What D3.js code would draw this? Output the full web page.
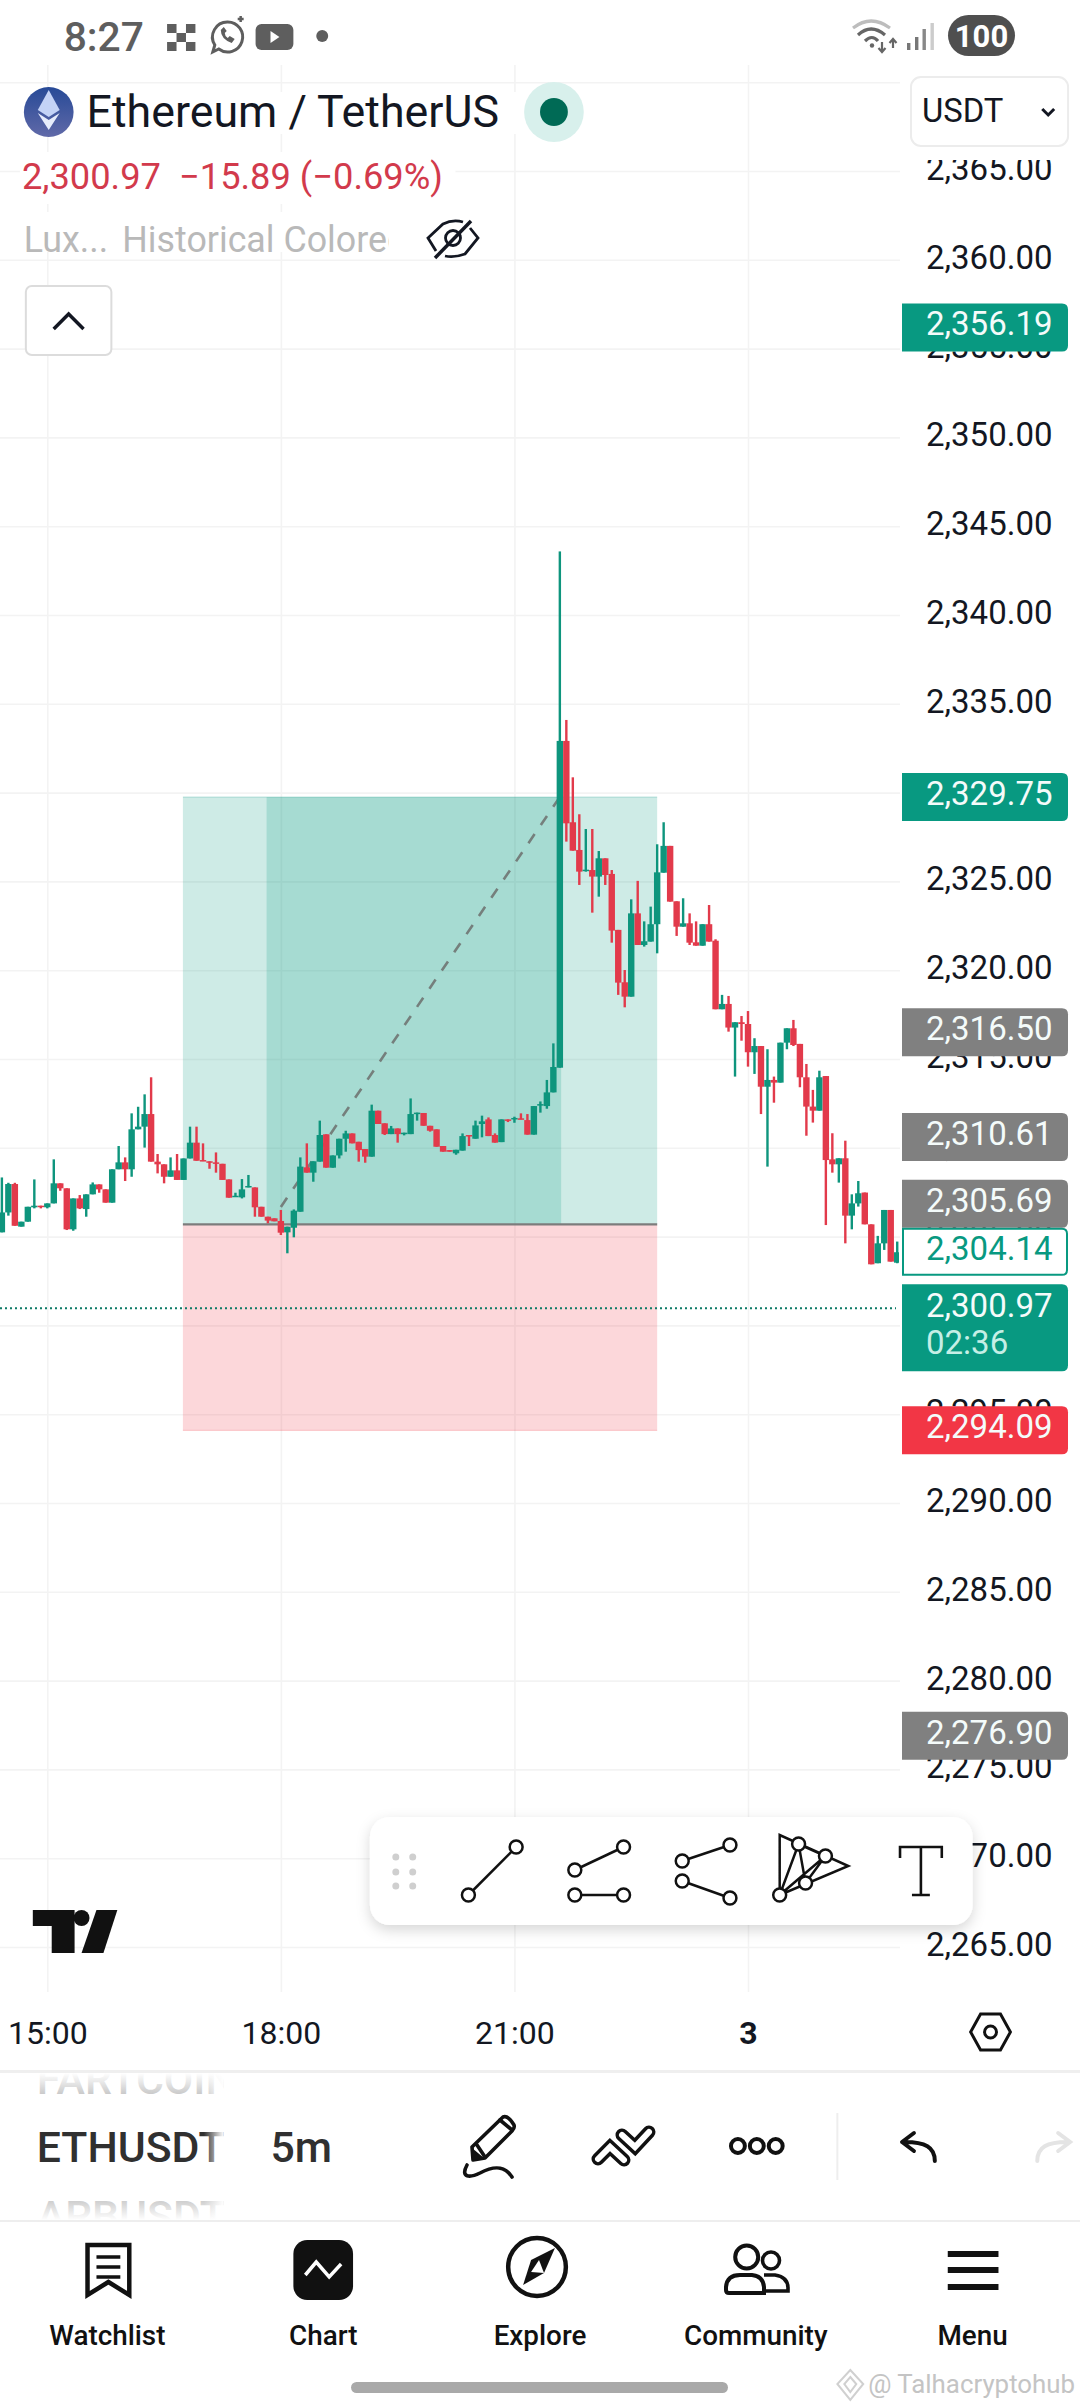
<!DOCTYPE html>
<html>
<head>
<meta charset="utf-8">
<script src="https://cdn.jsdelivr.net/npm/d3@7"></script>
<style>
  html, body { margin: 0; padding: 0; background: #fff; }
  svg { display: block; }
  text { font-family: Roboto, sans-serif; }
</style>
</head>
<body>
<script>
// 5m candles, first one sits 7 bars left of the 15:00 line
var firstBar = -7;

var opens = [
  2305.24,2306.36,2307.96,2305.56,2305.84,2306.65,2306.74,
  2306.65,2306.87,2308.00,2307.72,2305.41,2307.15,2306.55,2307.38,2307.94,2307.66,
  2306.91,2308.79,2309.18,2308.79,2311.04,2311.19,2311.90,2309.22,2309.07,2308.37,
  2308.73,2308.19,2309.40,2310.29,2309.31,2309.24,2309.18,2309.10,2308.22,2307.25,
  2307.21,2307.77,2307.77,2306.68,2306.12,2306.03,2305.88,2305.24,2305.50,2306.40,
  2308.90,2308.60,2309.22,2310.76,2308.88,2309.57,2310.51,2310.81,2310.34,2309.93,
  2309.50,2312.09,2311.38,2310.77,2311.09,2310.77,2310.77,2311.92,2311.96,2311.24,
  2311.04,2310.10,2309.87,2309.69,2309.84,2310.72,2310.51,2311.34,2311.60,2310.72,
  2310.32,2311.60,2311.60,2311.66,2311.56,2310.74,2312.39,2312.35,2313.12,2314.51,
  2332.91,2328.33,2326.77,2325.59,2325.64,2325.27,2326.30,2325.42,2322.27,2319.32,
  2318.51,2323.20,2321.42,2321.61,2322.59,2325.49,2327.00,2323.88,2322.45,2322.64,
  2321.57,2321.38,2322.59,2321.66,2317.80,2318.10,2316.77,2317.07,2316.97,2315.38,
  2315.73,2313.44,2313.82,2313.67,2315.92,2316.73,2315.85,2313.97,2312.32,2312.09,
  2314.04,2309.35,2309.07,2309.41,2306.18,2306.87,2307.48,2305.69,2303.50,2304.62,
  2306.50,2303.53
];
var highs = [
  2308.33,2308.03,2308.03,2305.84,2306.68,2308.22,2306.74,
  2306.87,2309.35,2308.00,2307.72,2307.15,2307.34,2307.38,2308.05,2307.94,2307.66,
  2308.79,2310.10,2309.46,2311.94,2312.31,2313.01,2313.97,2309.65,2309.07,2309.46,
  2309.65,2309.40,2311.19,2311.19,2310.25,2309.24,2309.74,2309.10,2308.22,2307.47,
  2308.24,2308.47,2307.77,2306.68,2306.12,2306.03,2306.50,2305.56,2306.53,2309.46,
  2310.25,2309.24,2311.53,2310.76,2309.57,2310.51,2310.96,2310.81,2310.34,2309.93,
  2312.43,2312.09,2311.38,2311.23,2311.09,2310.85,2312.78,2311.98,2311.96,2311.24,
  2311.04,2310.10,2309.87,2309.89,2310.81,2310.72,2311.53,2311.81,2311.71,2310.81,
  2311.60,2311.60,2311.75,2311.94,2311.90,2312.35,2312.61,2313.82,2315.88,2343.58,
  2334.09,2330.86,2328.78,2327.95,2327.95,2326.71,2326.30,2325.64,2322.27,2320.01,
  2323.99,2325.03,2322.75,2323.58,2327.09,2328.33,2327.00,2323.88,2324.05,2323.20,
  2322.75,2322.59,2323.67,2321.74,2318.61,2318.55,2317.07,2317.42,2317.70,2316.17,
  2315.73,2315.55,2314.01,2315.92,2316.73,2317.20,2315.85,2314.72,2313.26,2314.34,
  2314.04,2310.82,2309.41,2310.40,2307.38,2308.13,2307.48,2305.69,2305.04,2306.50,
  2306.50,2304.72
];
var lows = [
  2305.24,2306.18,2305.61,2305.56,2305.84,2306.59,2306.59,
  2306.59,2306.87,2307.58,2305.37,2305.33,2306.55,2306.12,2307.38,2307.47,2306.91,
  2306.91,2308.79,2308.13,2308.37,2311.04,2310.01,2309.22,2308.56,2308.00,2308.37,
  2308.19,2308.19,2309.40,2309.27,2309.25,2308.82,2308.60,2308.19,2307.19,2307.25,
  2307.15,2307.77,2306.12,2306.12,2305.75,2305.86,2305.09,2304.06,2304.96,2306.40,
  2308.60,2308.09,2309.22,2308.88,2308.88,2309.40,2309.78,2310.25,2309.22,2309.16,
  2309.50,2311.34,2310.72,2310.77,2310.29,2310.70,2310.77,2311.53,2311.24,2310.91,
  2310.06,2309.78,2309.78,2309.61,2309.84,2310.10,2310.51,2310.59,2310.66,2310.29,
  2310.32,2311.45,2311.41,2311.60,2310.74,2310.74,2311.98,2312.20,2313.12,2314.51,
  2327.24,2326.73,2324.80,2325.55,2323.24,2324.14,2324.80,2321.55,2318.61,2317.91,
  2318.51,2321.42,2321.33,2321.61,2320.95,2325.49,2323.86,2321.93,2322.45,2321.42,
  2321.38,2321.38,2321.61,2317.80,2317.80,2316.54,2314.01,2316.03,2314.57,2314.16,
  2311.90,2308.94,2312.54,2313.67,2315.55,2315.73,2313.41,2310.68,2311.42,2312.09,
  2305.65,2308.60,2308.04,2304.62,2305.41,2306.69,2305.69,2303.44,2303.50,2304.25,
  2303.59,2303.50
];
var closes = [
  2306.36,2307.96,2305.61,2305.84,2306.68,2306.74,2306.68,
  2306.87,2308.00,2307.72,2305.41,2307.15,2306.59,2307.38,2307.94,2307.66,2306.91,
  2308.79,2309.18,2308.79,2311.04,2311.19,2311.90,2309.22,2309.07,2308.37,2308.73,
  2308.19,2309.40,2310.29,2309.27,2309.25,2309.16,2309.12,2308.19,2307.19,2307.30,
  2307.66,2307.85,2306.65,2306.12,2305.90,2305.86,2305.22,2305.56,2306.46,2308.94,
  2308.60,2309.24,2310.72,2308.88,2309.57,2310.51,2310.81,2310.25,2309.87,2309.50,
  2312.09,2311.34,2310.77,2311.09,2310.77,2310.85,2311.90,2311.98,2311.24,2310.96,
  2310.06,2309.78,2309.78,2309.89,2310.66,2310.66,2311.26,2311.49,2310.66,2310.29,
  2311.60,2311.53,2311.68,2311.60,2310.74,2312.35,2312.46,2313.12,2314.55,2332.91,
  2328.27,2326.73,2325.55,2325.66,2325.27,2326.30,2325.36,2322.23,2319.30,2318.51,
  2323.20,2321.42,2321.63,2322.59,2325.51,2327.00,2323.86,2322.45,2322.64,2321.55,
  2321.38,2322.59,2321.61,2317.80,2318.10,2316.77,2317.07,2316.97,2315.38,2315.73,
  2313.44,2313.82,2313.67,2315.92,2316.73,2315.79,2313.97,2312.32,2312.09,2313.97,
  2309.31,2309.07,2309.41,2306.18,2306.87,2307.44,2305.69,2303.44,2304.62,2306.50,
  2303.59,2304.12
];

var priceTicks = [2365,2360,2355,2350,2345,2340,2335,2330,2325,2320,2315,2310,2305,2300,2295,2290,2285,2280,2275,2270,2265];
var gridPrices = [2370].concat(priceTicks);
var timeTicks = [0,36,72,108];
var timeLabels = ["15:00","18:00","21:00","3"];

// long position tool
var targetPrice = 2329.75, entryPrice = 2305.69, stopPrice = 2294.09;
var posStart = 20.9, posEnd = 94, heldStart = 33.8, heldEnd = 79.2;
var pathFrom = [36, 2306.67], pathTo = [79, 2329.75];
var lastPrice = 2300.97;

// price tags on the axis, nudge = label pushed up so it does not overlap the next one
var tagValues = [2356.19,2329.75,2316.50,2310.61,2305.69,2294.09,2276.90];
var tagFills  = ["#089981","#089981","#808080","#808080","#808080","#f23645","#808080"];
var tagNudge  = [0,0,0,0,-20.5,0,0];

var width = 1080, height = 2408;
var paneRight = 900;
var green = "#0e957d", red = "#e23a4b";

var x = d3.scaleLinear().domain([0,108]).range([47.3,748]);
var y = d3.scaleLinear().domain([2265,2370]).range([1947,82.2]);
var fmt = d3.format(",.2f");

var bars = opens.map(function(o,i){
  return {t:firstBar+i, o:o, h:highs[i], l:lows[i], c:closes[i]};
});

var svg = d3.select("body").append("svg").attr("width",width).attr("height",height);
var defs = svg.append("defs");
defs.append("clipPath").attr("id","pane").append("rect").attr("x",0).attr("y",0).attr("width",paneRight-1).attr("height",1990);
defs.append("clipPath").attr("id","axisClip").append("rect").attr("x",900).attr("y",160).attr("width",180).attr("height",1830);
var lg = defs.append("linearGradient").attr("id","eth").attr("x1",0).attr("x2",0).attr("y1",0).attr("y2",1);
lg.append("stop").attr("offset",0).attr("stop-color","#274a97");
lg.append("stop").attr("offset",1).attr("stop-color","#6069a8");
var sh = defs.append("filter").attr("id","shadow").attr("x","-10%").attr("y","-30%").attr("width","120%").attr("height","170%");
sh.append("feDropShadow").attr("dx",0).attr("dy",5).attr("stdDeviation",7).attr("flood-color","#000").attr("flood-opacity",0.16);
var fadeR = defs.append("linearGradient").attr("id","fadeR");
fadeR.append("stop").attr("offset",0).attr("stop-color","#fff").attr("stop-opacity",0);
fadeR.append("stop").attr("offset",1).attr("stop-color","#fff").attr("stop-opacity",1);
var fadeD = defs.append("linearGradient").attr("id","fadeD").attr("x1",0).attr("x2",0).attr("y1",0).attr("y2",1);
fadeD.append("stop").attr("offset",0).attr("stop-color","#fff").attr("stop-opacity",1);
fadeD.append("stop").attr("offset",1).attr("stop-color","#fff").attr("stop-opacity",0.25);
var fadeU = defs.append("linearGradient").attr("id","fadeU").attr("x1",0).attr("x2",0).attr("y1",0).attr("y2",1);
fadeU.append("stop").attr("offset",0).attr("stop-color","#fff").attr("stop-opacity",0.25);
fadeU.append("stop").attr("offset",1).attr("stop-color","#fff").attr("stop-opacity",1);

// grid, built from the axes
var gridY = svg.append("g").call(d3.axisLeft(y).tickValues(gridPrices).tickSize(-paneRight).tickFormat(""));
var gridX = svg.append("g").attr("transform","translate(0,1992)")
  .call(d3.axisBottom(x).tickValues(timeTicks).tickSize(-1927).tickFormat(""));
svg.selectAll(".domain").remove();
gridY.selectAll("line").attr("stroke","#f3f3f3").attr("stroke-width",1.6);
gridX.selectAll("line").attr("stroke","#f3f3f3").attr("stroke-width",1.6);

// position tool
var pos = svg.append("g");
pos.append("rect").attr("x",x(posStart)).attr("y",y(targetPrice)).attr("width",x(posEnd)-x(posStart))
  .attr("height",y(entryPrice)-y(targetPrice)).attr("fill","#089981").attr("fill-opacity",0.2);
pos.append("rect").attr("x",x(posStart)).attr("y",y(entryPrice)).attr("width",x(posEnd)-x(posStart))
  .attr("height",y(stopPrice)-y(entryPrice)).attr("fill","#f23645").attr("fill-opacity",0.2);
pos.append("rect").attr("x",x(heldStart)).attr("y",y(targetPrice)).attr("width",x(heldEnd)-x(heldStart))
  .attr("height",y(entryPrice)-y(targetPrice)).attr("fill","#089981").attr("fill-opacity",0.2);
pos.append("line").attr("x1",x(posStart)).attr("x2",x(posEnd)).attr("y1",y(entryPrice)).attr("y2",y(entryPrice))
  .attr("stroke","#7c7c7c").attr("stroke-width",2.4);
pos.append("line").attr("x1",x(posStart)).attr("x2",x(posEnd)).attr("y1",y(targetPrice)).attr("y2",y(targetPrice))
  .attr("stroke","#089981").attr("stroke-opacity",0.25).attr("stroke-width",1);
pos.append("line").attr("x1",x(posStart)).attr("x2",x(posEnd)).attr("y1",y(stopPrice)).attr("y2",y(stopPrice))
  .attr("stroke","#f23645").attr("stroke-opacity",0.25).attr("stroke-width",1);
pos.append("line").attr("x1",x(pathFrom[0])).attr("y1",y(pathFrom[1])).attr("x2",x(pathTo[0])).attr("y2",y(pathTo[1]))
  .attr("stroke","#757f7c").attr("stroke-width",2.6).attr("stroke-dasharray","11 11");

// candles
var plot = svg.append("g").attr("clip-path","url(#pane)");
var candle = plot.selectAll("g.c").data(bars).enter().append("g").attr("class","c")
  .attr("fill",function(d){ return d.c>=d.o ? green : red; });
candle.append("rect")
  .attr("x",function(d){ return x(d.t)-1.2; })
  .attr("width",2.4)
  .attr("y",function(d){ return y(d.h); })
  .attr("height",function(d){ return y(d.l)-y(d.h); });
candle.append("rect")
  .attr("x",function(d){ return x(d.t)-3.2; })
  .attr("width",6.4)
  .attr("y",function(d){ return y(Math.max(d.o,d.c)); })
  .attr("height",function(d){ return Math.max(1.5,Math.abs(y(d.o)-y(d.c))); });

// last price line
svg.append("line").attr("x1",0).attr("x2",paneRight-4).attr("y1",y(lastPrice)).attr("y2",y(lastPrice))
  .attr("stroke","#0c7a66").attr("stroke-width",2).attr("stroke-dasharray","2 3");

// price axis
svg.append("rect").attr("x",paneRight).attr("y",60).attr("width",180).attr("height",1930).attr("fill","#fff");
var axisR = svg.append("g").attr("clip-path","url(#axisClip)").append("g").attr("transform","translate(926,0)")
  .call(d3.axisRight(y).tickValues(priceTicks).tickSize(0).tickPadding(0).tickFormat(fmt));
axisR.select(".domain").remove();
axisR.selectAll("text").attr("font-size",33).attr("fill","#131722").attr("dy","0.26em")
  .style("font-family","Roboto, sans-serif");

function tagPath(x0,x1,top,h,r){
  return "M"+x0+","+top+"H"+(x1-r)+"Q"+x1+","+top+" "+x1+","+(top+r)+"V"+(top+h-r)+"Q"+x1+","+(top+h)+" "+(x1-r)+","+(top+h)+"H"+x0+"Z";
}
var tags = svg.selectAll("g.tag").data(tagValues).enter().append("g").attr("class","tag");
tags.append("path")
  .attr("d",function(d,i){ return tagPath(902,1068,y(d)+tagNudge[i]-24,48,6); })
  .attr("fill",function(d,i){ return tagFills[i]; });
tags.append("text").attr("x",926).attr("y",function(d,i){ return y(d)+tagNudge[i]+8; })
  .attr("font-size",33).attr("fill","#f4fbfa").text(fmt);

// current bar value
svg.append("path").attr("d",tagPath(903,1067,y(2304.14)-23,46,5)).attr("fill","#fff").attr("stroke","#089981").attr("stroke-width",2);
svg.append("text").attr("x",926).attr("y",y(2304.14)+8).attr("font-size",33).attr("fill","#089981").text(fmt(2304.14));
// last price + countdown
svg.append("path").attr("d",tagPath(902,1068,y(lastPrice)-24,87,6)).attr("fill","#089981");
svg.append("text").attr("x",926).attr("y",y(lastPrice)+9).attr("font-size",33).attr("fill","#f4fbfa").text(fmt(lastPrice));
svg.append("text").attr("x",926).attr("y",y(lastPrice)+46).attr("font-size",33).attr("fill","#c5efe6").text("02:36");

// time axis
var axisB = svg.append("g").attr("transform","translate(0,2021)")
  .call(d3.axisBottom(x).tickValues(timeTicks).tickSize(0).tickPadding(0).tickFormat(function(d,i){ return timeLabels[i]; }));
axisB.select(".domain").remove();
axisB.selectAll("text").attr("font-size",32).attr("fill","#131722").attr("dy","0.71em")
  .style("font-family","Roboto, sans-serif")
  .attr("font-weight",function(d,i){ return timeLabels[i]==="3" ? 700 : 400; });

// app chrome, measured on a slightly wider crop hence the scale
var chrome = svg.append("g").attr("transform","scale(0.9945,1)");

chrome.append("rect").attr("x",0).attr("y",0).attr("width",1090).attr("height",64).attr("fill","#fff");
chrome.append("rect").attr("x",20).attr("y",92).attr("width",515).attr("height",42).attr("fill","#fff");
chrome.append("rect").attr("x",20).attr("y",152).attr("width",438).attr("height",52).attr("fill","#fff");
chrome.append("rect").attr("x",20).attr("y",212).attr("width",460).attr("height",40).attr("fill","#fff");

var statusBar = chrome.append("g").attr("fill","#5e5e5e");
statusBar.append("text").attr("x",64).attr("y",51).attr("font-size",41).attr("font-weight",500).text("8:27");
// little checker icon
[[168,24],[187,24],[177.5,33],[168,42],[187,42]].forEach(function(p){
  statusBar.append("rect").attr("x",p[0]).attr("y",p[1]).attr("width",9.5).attr("height",9);
});
statusBar.append("path").attr("d","M229,22a15,15 0 1 1 -9,27l-6,3l2,-7a15,15 0 0 1 13,-23z").attr("fill","none").attr("stroke","#5e5e5e").attr("stroke-width",3);
statusBar.append("path").attr("d","M222,30q0,9 11,13l3,-4l-5,-3l-2,2q-3,-2 -3,-5l2,-2l-3,-4z");
statusBar.append("path").attr("d","M239,19h6M242,16v6").attr("stroke","#5e5e5e").attr("stroke-width",2.5);
statusBar.append("rect").attr("x",257).attr("y",24).attr("width",38).attr("height",26).attr("rx",6);
statusBar.append("path").attr("d","M272,31l9,6l-9,6z").attr("fill","#fff");
statusBar.append("circle").attr("cx",324).attr("cy",36).attr("r",6);

// wifi, signal, battery
var wifi = svg.append("g").attr("fill","none").attr("stroke-width",3.2);
wifi.append("path").attr("d","M853,28q18,-14 37,0").attr("stroke","#bdbdbd");
wifi.append("path").attr("d","M858,35q13,-12 27,0").attr("stroke","#666");
wifi.append("path").attr("d","M865,41q7,-7 13,0").attr("stroke","#666");
svg.append("circle").attr("cx",872).attr("cy",45.5).attr("r",2.2).attr("fill","#666");
svg.append("path").attr("d","M882,42v10m-3.5,-4l3.5,4l3.5,-4M893,48v-9m-3.5,4l3.5,-4l3.5,4").attr("fill","none").attr("stroke","#666").attr("stroke-width",2.2);
[[907,43,"#777"],[915,37,"#777"],[922.5,29,"#888"],[930.5,23,"#ccc"]].forEach(function(b){
  svg.append("rect").attr("x",b[0]).attr("y",b[1]).attr("width",3.4).attr("height",50-b[1]).attr("fill",b[2]);
});
svg.append("rect").attr("x",948).attr("y",15).attr("width",67).attr("height",41).attr("rx",20.5).attr("fill","#4f4f4f");
svg.append("text").attr("x",981.5).attr("y",47).attr("text-anchor","middle").attr("font-size",31).attr("font-weight",700).attr("fill","#fff").text("100");

// symbol header
chrome.append("circle").attr("cx",49).attr("cy",112).attr("r",25).attr("fill","url(#eth)");
chrome.append("path").attr("d","M49,90L38,110L49,117L60,110Z").attr("fill","#c4d3f6");
chrome.append("path").attr("d","M38,113L49,120L60,113L49,130Z").attr("fill","#e6ecfb");
chrome.append("text").attr("x",87).attr("y",127).attr("font-size",45).attr("fill","#131722").text("Ethereum / TetherUS");
chrome.append("circle").attr("cx",557).attr("cy",112).attr("r",30).attr("fill","#d8f0ec");
chrome.append("circle").attr("cx",557).attr("cy",112).attr("r",14).attr("fill","#006a55");
chrome.append("rect").attr("x",916).attr("y",77).attr("width",158).attr("height",69).attr("rx",10).attr("fill","#fff").attr("stroke","#ececec").attr("stroke-width",2);
chrome.append("text").attr("x",927).attr("y",122).attr("font-size",33).attr("fill","#131722").text("USDT");
chrome.append("path").attr("d","M1048,109l6,6l6,-6").attr("fill","none").attr("stroke","#131722").attr("stroke-width",3);
chrome.append("text").attr("x",22).attr("y",189).attr("font-size",36.5).attr("fill","#d23a4c").text("2,300.97");
chrome.append("text").attr("x",180).attr("y",189).attr("font-size",36.5).attr("fill","#d23a4c").text("\u221215.89 (\u22120.69%)");
chrome.append("text").attr("x",24).attr("y",252).attr("font-size",36).attr("fill","#b9b9b9").text("Lux...");
defs.append("clipPath").attr("id","hist").append("rect").attr("x",120).attr("y",210).attr("width",271).attr("height",60);
chrome.append("text").attr("x",123).attr("y",252).attr("font-size",36).attr("fill","#b9b9b9").attr("clip-path","url(#hist)").text("Historical Colored");

var eye = svg.append("g").attr("fill","none").attr("stroke","#131722").attr("stroke-width",2.8);
eye.append("path").attr("d","M436,251L428,238L443,224Q453,219 463,222");
eye.append("path").attr("d","M470,228L478,238L465,254Q454,258 445,256");
eye.append("circle").attr("cx",453).attr("cy",238).attr("r",7.5);
eye.append("path").attr("d","M471,221L435,258").attr("stroke-width",3.5);

chrome.append("rect").attr("x",26).attr("y",286).attr("width",86).attr("height",69).attr("rx",6).attr("fill","#fff").attr("stroke","#dcdcdc").attr("stroke-width",2);
chrome.append("path").attr("d","M54,329l15,-15l15,15").attr("fill","none").attr("stroke","#131722").attr("stroke-width",3.5);

// TV logo
var logo = chrome.append("g").attr("fill","#111");
logo.append("path").attr("d","M33,1910H75V1953H52V1926H33Z");
logo.append("circle").attr("cx",82).attr("cy",1918).attr("r",8);
logo.append("path").attr("d","M97,1910H118L104,1953H82Z");

// floating drawing toolbar
chrome.append("rect").attr("x",372).attr("y",1817).attr("width",606).attr("height",108).attr("rx",20).attr("fill","#fff").attr("filter","url(#shadow)");
[398,415].forEach(function(dx){ [1857,1872,1886].forEach(function(dy){
  chrome.append("circle").attr("cx",dx).attr("cy",dy).attr("r",3.5).attr("fill","#cfcfcf");
}); });
var ink = "#111";
function seg(a,b){
  chrome.append("line").attr("x1",a[0]).attr("y1",a[1]).attr("x2",b[0]).attr("y2",b[1]).attr("stroke",ink).attr("stroke-width",2.5);
}
function node(p){
  chrome.append("circle").attr("cx",p[0]).attr("cy",p[1]).attr("r",6.5).attr("fill","#fff").attr("stroke",ink).attr("stroke-width",2.5);
}
[[[471,1895],[519,1847]],[[578,1870],[627,1847]],[[578,1895],[627,1895]],[[686,1861],[734,1845]],[[686,1881],[734,1898]]].forEach(function(s){
  seg(s[0],s[1]); node(s[0]); node(s[1]);
});
chrome.append("path").attr("d","M784,1895V1835L853,1866L784,1895M784,1895L803,1844M803,1844L810,1883M803,1844L830,1856M784,1895L830,1856M830,1856L810,1883").attr("fill","none").attr("stroke",ink).attr("stroke-width",2.5);
[[784,1895],[803,1844],[830,1856],[810,1883]].forEach(node);
chrome.append("path").attr("d","M905,1858V1847H947V1858M926,1847V1895M917,1895H935").attr("fill","none").attr("stroke",ink).attr("stroke-width",2.6);

// settings hexagon
chrome.append("path").attr("d","M976,2032L986,2014H1006L1016,2032L1006,2050H986Z").attr("fill","none").attr("stroke",ink).attr("stroke-width",3);
chrome.append("circle").attr("cx",996).attr("cy",2032).attr("r",6).attr("fill","none").attr("stroke",ink).attr("stroke-width",3);

// bottom toolbar
chrome.append("rect").attr("x",0).attr("y",2070).attr("width",1090).attr("height",3).attr("fill","#efefef");
defs.append("clipPath").attr("id","symRows").append("rect").attr("x",30).attr("y",2073).attr("width",195).attr("height",147);
var rows = chrome.append("g").attr("clip-path","url(#symRows)");
rows.append("text").attr("x",37).attr("y",2094).attr("font-size",43).attr("fill","#b5b5b5").attr("font-weight",500).text("FARTCOIN");
rows.append("text").attr("x",37).attr("y",2162).attr("font-size",43).attr("fill","#303030").attr("font-weight",500).text("ETHUSDT");
rows.append("text").attr("x",37).attr("y",2231).attr("font-size",43).attr("fill","#b5b5b5").attr("font-weight",500).text("ARBUSDT");
chrome.append("rect").attr("x",30).attr("y",2073).attr("width",200).attr("height",22).attr("fill","url(#fadeD)");
chrome.append("rect").attr("x",30).attr("y",2198).attr("width",200).attr("height",22).attr("fill","url(#fadeU)");
chrome.append("rect").attr("x",205).attr("y",2073).attr("width",20).attr("height",147).attr("fill","url(#fadeR)");
chrome.append("text").attr("x",272).attr("y",2162).attr("font-size",43).attr("fill","#303030").attr("font-weight",500).text("5m");

// pen
var pen = svg.append("g").attr("fill","none").attr("stroke",ink).attr("stroke-width",3.6).attr("stroke-linejoin","round").attr("stroke-linecap","round");
pen.append("path").attr("d","M472,2147L503,2117Q508,2115 514,2125Q515,2128 512,2131L485,2158L473,2160Z");
pen.append("path").attr("d","M500,2120L512,2130M477,2145L485,2157");
svg.append("path").attr("d","M472,2148L473,2160L484,2158Z").attr("fill",ink);
pen.append("path").attr("d","M467,2165C460,2178 470,2178 480,2173C495,2165 505,2166 512,2177");
// double chevron, thick black stroke with a white one on top
[["M598,2159L610,2147L624,2160"],["M622,2135L635,2147L649,2132"]].forEach(function(p){
  svg.append("path").attr("d",p[0]).attr("fill","none").attr("stroke",ink).attr("stroke-width",13).attr("stroke-linecap","round");
  svg.append("path").attr("d",p[0]).attr("fill","none").attr("stroke","#fff").attr("stroke-width",6).attr("stroke-linecap","round");
});
var tool = chrome.append("g").attr("fill","none").attr("stroke",ink).attr("stroke-width",4).attr("stroke-linejoin","round").attr("stroke-linecap","round");
[742,761,780].forEach(function(cx){ tool.append("circle").attr("cx",cx).attr("cy",2146).attr("r",7); });
tool.append("path").attr("d","M940,2161c0,-14 -10,-19 -30,-19M919,2133l-12,9l12,9");
chrome.append("path").attr("d","M1043,2161c0,-14 10,-19 30,-19M1064,2133l12,9l-12,9").attr("fill","none").attr("stroke","#e4e4e4").attr("stroke-width",4).attr("stroke-linecap","round");
chrome.append("line").attr("x1",842).attr("x2",842).attr("y1",2113).attr("y2",2180).attr("stroke","#eeeeee").attr("stroke-width",2);
chrome.append("rect").attr("x",0).attr("y",2220).attr("width",1090).attr("height",2).attr("fill","#eeeeee");

// nav bar
var navNames = ["Watchlist","Chart","Explore","Community","Menu"];
var navX = [108,325,543,760,978];
navNames.forEach(function(n,i){
  chrome.append("text").attr("x",navX[i]).attr("y",2345).attr("text-anchor","middle").attr("font-size",28).attr("font-weight",500).attr("fill",ink).text(n);
});
var nav = chrome.append("g").attr("fill","none").attr("stroke",ink).attr("stroke-width",4.5);
nav.append("path").attr("d","M88,2245H130V2295L109,2282L88,2295Z");
nav.append("path").attr("d","M97,2257H121M97,2267H121M97,2277H121").attr("stroke-width",3.5);
chrome.append("rect").attr("x",295).attr("y",2240).attr("width",60).attr("height",60).attr("rx",14).attr("fill",ink);
chrome.append("path").attr("d","M307,2275L318,2262L331,2277L343,2264").attr("fill","none").attr("stroke","#fff").attr("stroke-width",3.5);
nav.append("circle").attr("cx",540).attr("cy",2267).attr("r",29);
chrome.append("path").attr("d","M526,2285L534,2260L558,2248L547,2273Z").attr("fill",ink);
chrome.append("path").attr("d","M534,2272L542,2260L547,2273Z").attr("fill","#fff");
// community icon
var people = svg.append("g").attr("fill","none").attr("stroke",ink).attr("stroke-width",4);
people.append("circle").attr("cx",746.7).attr("cy",2257).attr("r",11.5);
people.append("circle").attr("cx",771).attr("cy",2260.5).attr("r",8.5).attr("stroke-width",3.6);
people.append("path").attr("d","M764,2275H775Q788,2277 788,2288V2291H762").attr("stroke-width",3.6);
people.append("path").attr("d","M726,2290V2287Q727,2275 740,2275H752Q763,2276 764,2287V2293H729Q726,2293 726,2290Z");
chrome.append("rect").attr("x",953).attr("y",2251).attr("width",51).attr("height",6).attr("fill",ink);
chrome.append("rect").attr("x",953).attr("y",2267).attr("width",51).attr("height",6).attr("fill",ink);
chrome.append("rect").attr("x",953).attr("y",2284).attr("width",51).attr("height",6).attr("fill",ink);

// home bar and watermark
chrome.append("rect").attr("x",353).attr("y",2382).attr("width",379).attr("height",11).attr("rx",5.5).attr("fill","#a9a9a9");
chrome.append("path").attr("d","M855,2370L868,2384L855,2400L842,2384ZM855,2377L861,2384L855,2392L849,2384Z").attr("fill","none").attr("stroke","#d0d0d0").attr("stroke-width",2);
chrome.append("text").attr("x",873).attr("y",2393).attr("font-size",26).attr("fill","#c4c4c4").text("@ Talhacryptohub");
</script>
</body>
</html>
